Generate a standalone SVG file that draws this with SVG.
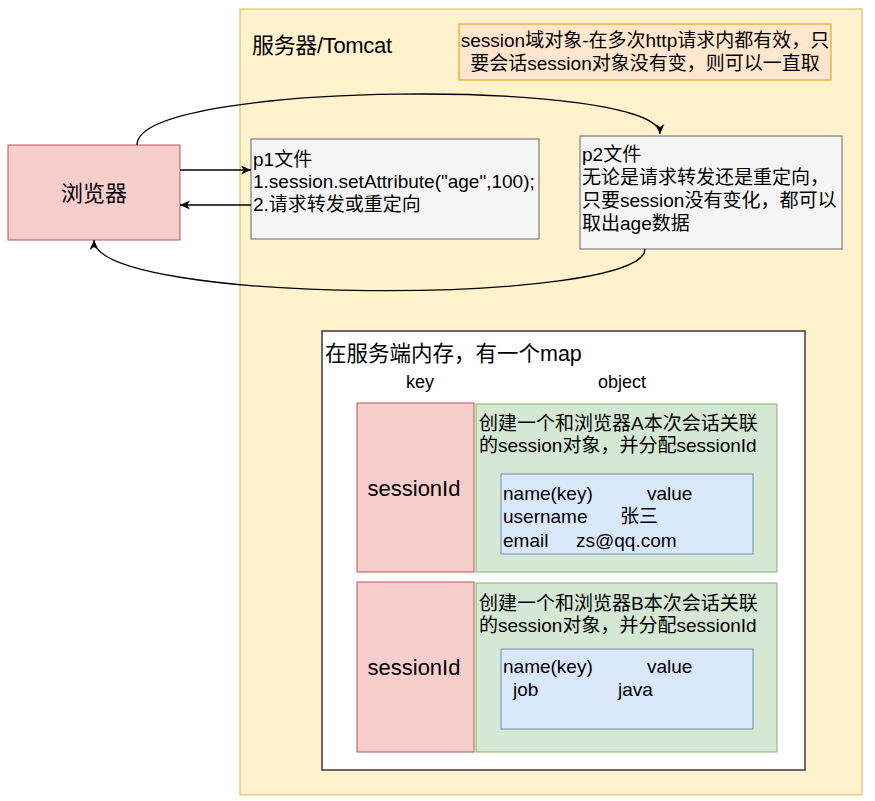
<svg xmlns="http://www.w3.org/2000/svg" width="875" height="801" viewBox="0 0 875 801">
<defs>
<marker id="arr" markerWidth="12" markerHeight="10" refX="10" refY="5" orient="auto" markerUnits="userSpaceOnUse">
<path d="M0,0.5 L10,5 L0,9.5 L3,5 z" fill="#000"/>
</marker>
<style>
text{font-family:"Liberation Sans","Noto Sans CJK SC",sans-serif;fill:#000;}
.t16{font-size:19px;}
.t18{font-size:21.5px;}
.t20{font-size:22px;}
.k{font-size:18px;}
.red{fill:#f8cecc;stroke:#b85450;}
.grey{fill:#f5f5f5;stroke:#666666;}
.green{fill:#d5e8d4;stroke:#82b366;}
.blue{fill:#dae8fc;stroke:#6c8ebf;}
.conn{fill:none;stroke:#000;stroke-width:1.3;}
</style>
</defs>
<rect width="875" height="801" fill="#fff"/>
<g id="server">
<rect x="240" y="9" width="622" height="786" fill="#fff2cc" stroke="#d6b656"/>
<text class="t20" x="252" y="53" textLength="140">服务器/Tomcat</text>
</g>
<g id="note">
<rect x="459" y="24" width="372" height="56" fill="#ffe6cc" stroke="#d79b00"/>
<text class="t16" x="645" y="47" text-anchor="middle">session域对象-在多次http请求内都有效，只</text>
<text class="t16" x="645" y="70" text-anchor="middle">要会话session对象没有变，则可以一直取</text>
</g>
<g id="browser">
<rect class="red" x="8" y="145" width="172" height="95"/>
<text class="t20" x="94" y="201" text-anchor="middle">浏览器</text>
</g>
<g id="p1">
<rect class="grey" x="251" y="139" width="288" height="100"/>
<text class="t16" x="253" y="166">p1文件</text>
<text class="t16" x="253" y="188">1.session.setAttribute("age",100);</text>
<text class="t16" x="253" y="211">2.请求转发或重定向</text>
</g>
<g id="p2">
<rect class="grey" x="580" y="136" width="262" height="113"/>
<text class="t16" x="582" y="161">p2文件</text>
<text class="t16" x="582" y="183.5">无论是请求转发还是重定向，</text>
<text class="t16" x="582" y="206.5">只要session没有变化，都可以</text>
<text class="t16" x="582" y="229.5">取出age数据</text>
</g>
<g id="map">
<rect x="322" y="331" width="483" height="439" fill="#fff" stroke="#36393d" stroke-width="1.5"/>
<text class="t18" x="325" y="361">在服务端内存，有一个map</text>
<text class="k" x="420" y="388" text-anchor="middle">key</text>
<text class="k" x="622" y="388" text-anchor="middle">object</text>
</g>
<g id="key1">
<rect class="red" x="357" y="403" width="117" height="169"/>
<text class="t20" x="414" y="496" text-anchor="middle">sessionId</text>
</g>
<g id="obj1">
<rect class="green" x="476" y="404" width="301" height="168"/>
<text class="t16" x="479" y="430">创建一个和浏览器A本次会话关联</text>
<text class="t16" x="479" y="452">的session对象，并分配sessionId</text>
</g>
<g id="val1">
<rect class="blue" x="501" y="474" width="252" height="80"/>
<text class="t16" x="503" y="500">name(key)</text>
<text class="t16" x="647" y="500">value</text>
<text class="t16" x="503" y="523">username</text>
<text class="t16" x="620" y="523">张三</text>
<text class="t16" x="503" y="547">email</text>
<text class="t16" x="576" y="547">zs@qq.com</text>
</g>
<g id="key2">
<rect class="red" x="357" y="582" width="117" height="170"/>
<text class="t20" x="414" y="675" text-anchor="middle">sessionId</text>
</g>
<g id="obj2">
<rect class="green" x="476" y="583" width="301" height="169"/>
<text class="t16" x="479" y="610">创建一个和浏览器B本次会话关联</text>
<text class="t16" x="479" y="632">的session对象，并分配sessionId</text>
</g>
<g id="val2">
<rect class="blue" x="501" y="649" width="252" height="80"/>
<text class="t16" x="503" y="673">name(key)</text>
<text class="t16" x="647" y="673">value</text>
<text class="t16" x="513" y="696">job</text>
<text class="t16" x="618" y="696">java</text>
</g>
<g id="connectors">
<path class="conn" d="M180,170 L251,170" marker-end="url(#arr)"/>
<path class="conn" d="M251,205 L180,205" marker-end="url(#arr)"/>
<path class="conn" d="M137,145 C137,80 660,78 660,134" marker-end="url(#arr)"/>
<path class="conn" d="M645,249 C645,306 94,306 94,240" marker-end="url(#arr)"/>
</g>
</svg>
